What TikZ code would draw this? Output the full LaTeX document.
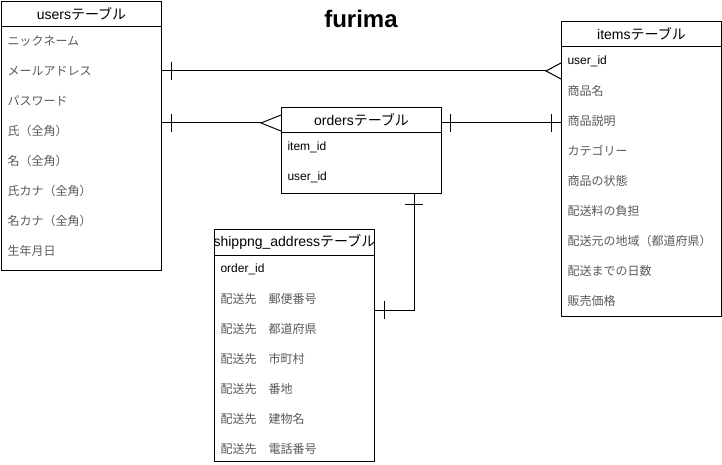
\documentclass[tikz,border=0pt]{standalone}
\usepackage{fontspec}
\setmainfont{Liberation Sans}
\newfontfamily\jpfont{Noto Sans CJK JP}
\usetikzlibrary{calc}
\usetikzlibrary{positioning}
\definecolor{jpgray}{gray}{0.35}
\newcommand\jp[1]{{\jpfont\color{jpgray}#1}}
\newcommand\tbl{{\jpfont テーブル}}
\tikzset{
  table/.style={draw, minimum width=160pt, anchor=north west, inner sep=0pt},
  head/.style={font=\fontsize{14}{16}\selectfont},
  field/.style={anchor=west, inner sep=0pt, font=\fontsize{12}{14}\selectfont},
  title/.style={font=\bfseries\fontsize{24}{28}\selectfont},
}
\newcommand\ertable[5]{
  \node[table, minimum height=#4pt] (#1) at (#2,#3) {};
  \node[head] (#1-head) at ($(#1.north)+(0,13)$) {#5};
  \draw ($(#1.north west)+(0,26)$) -- ($(#1.north east)+(0,26)$);
}
\newcommand\erfields[2]{
  \foreach \field [count=\i] in {#2} {
    \node[field] (#1-\i) at ($(#1.north west)+(6,10+30*\i)$) {\field};
  }
}

\begin{document}
\begin{tikzpicture}[x=1pt,y=-1pt,line width=1pt]
  \useasboundingbox (0,0) rectangle (722,465);

  \node[title] (title) at (361,19) {furima};

  % tables
  \ertable{users}{1}{1}{269}{users\tbl}
  \erfields{users}{\jp{ニックネーム},\jp{メールアドレス},\jp{パスワード},\jp{氏（全角）},
    \jp{名（全角）},\jp{氏カナ（全角）},\jp{名カナ（全角）},\jp{生年月日}}

  \ertable{items}{561}{21}{295}{items\tbl}
  \erfields{items}{user\_id,\jp{商品名},\jp{商品説明},\jp{カテゴリー},\jp{商品の状態},
    \jp{配送料の負担},\jp{配送元の地域（都道府県）},\jp{配送までの日数},\jp{販売価格}}

  \ertable{orders}{281}{107}{86}{orders\tbl}
  \erfields{orders}{item\_id,user\_id}

  \ertable{shipping}{214}{229}{232}{shippng\_address\tbl}
  \erfields{shipping}{order\_id,\jp{配送先　郵便番号},\jp{配送先　都道府県},\jp{配送先　市町村},
    \jp{配送先　番地},\jp{配送先　建物名},\jp{配送先　電話番号}}

  % users - items
  \coordinate (ur1) at (users.east |- users-2);
  \coordinate (il1) at (items.west |- users-2);
  \draw (ur1) -- ($(il1)+(-15,0)$);
  \draw ($(ur1)+(9,-9)$) -- ++(0,18);
  \draw ($(il1)+(0,-8)$) -- ($(il1)+(-15,0)$) -- ($(il1)+(0,8)$);

  % users - orders
  \coordinate (ol) at ($(orders.north west)+(0,16)$);
  \coordinate (ur2) at (users.east |- ol);
  \draw (ur2) -- ($(ol)+(-20,0)$);
  \draw ($(ur2)+(9,-9)$) -- ++(0,18);
  \draw ($(ol)+(0,-8)$) -- ($(ol)+(-20,0)$) -- ($(ol)+(0,8)$);

  % orders - items
  \coordinate (or) at (orders.east |- ol);
  \coordinate (il2) at (items.west |- ol);
  \draw (or) -- (il2);
  \draw ($(or)+(8,-9)$) -- ++(0,18);
  \draw ($(il2)+(-10,-9)$) -- ++(0,18);

  % orders - shipping
  \coordinate (ob) at ($(orders.south east)+(-28,0)$);
  \coordinate (sr) at ($(shipping.north east)+(0,81)$);
  \draw (ob) |- (sr);
  \draw ($(ob)+(-9,10)$) -- ++(18,0);
  \draw ($(sr)+(9,-9)$) -- ++(0,18);

\end{tikzpicture}
\end{document}
